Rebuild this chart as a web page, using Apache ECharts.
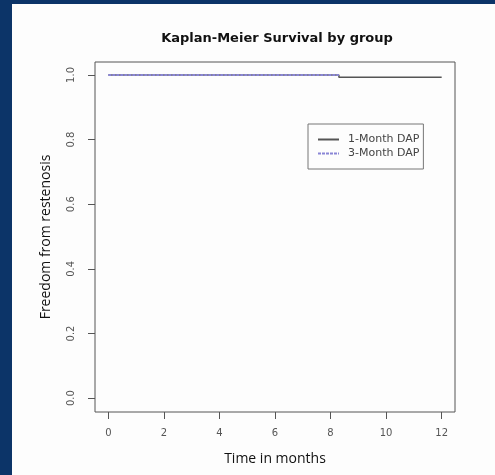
<!DOCTYPE html>
<html>
<head>
<meta charset="utf-8">
<script src="https://cdn.jsdelivr.net/npm/echarts@6/dist/echarts.min.js"></script>
<style>
html,body{margin:0;padding:0;background:#0c3468;}
#wrap{position:absolute;left:12px;top:4px;width:483px;height:471px;background:#fdfdfd;}
#chart{position:absolute;left:0;top:0;width:495px;height:475px;}
</style>
</head>
<body>
<div id="wrap"></div>
<div id="chart"></div>
<script>
const chartTitle = 'Kaplan-Meier Survival by group';
const xTitle = 'Time in months';
const yTitle = 'Freedom from restenosis';
const seriesNames = ['1-Month DAP', '3-Month DAP'];
const xTicks = [0, 2, 4, 6, 8, 10, 12];
const yTicks = [0, 0.2, 0.4, 0.6, 0.8, 1.0];
// Kaplan-Meier step curves (time, survival)
const month1Times = [0, 8.3, 12];
const month1Surv = [1.0, 0.993, 0.993];
const month3Times = [0, 8.3];
const month3Surv = [1.0, 1.0];

const toPairs = (t, s) => t.map((v, i) => [v, s[i]]);

const chart = echarts.init(document.getElementById('chart'), null, {renderer: 'canvas'});
chart.setOption({
  backgroundColor: 'transparent',
  animation: false,
  title: {
    text: chartTitle, left: 272, top: 27, textAlign: 'center',
    textStyle: {fontFamily: 'DejaVu Sans', fontWeight: 'bold', fontSize: 13, color: '#111'}
  },
  legend: {
    left: 308, top: 124, orient: 'vertical',
    data: seriesNames,
    itemWidth: 21, itemHeight: 4, itemGap: 3,
    padding: [10, 4, 10, 9],
    borderColor: '#777', borderWidth: 1,
    itemStyle: {opacity: 0, borderWidth: 0},
    textStyle: {fontFamily: 'DejaVu Sans', fontSize: 11, color: '#444', padding: [0, 0, 0, 4]}
  },
  grid: {left: 95, top: 62, width: 360, height: 350, show: true, borderColor: '#555', borderWidth: 1, backgroundColor: 'transparent'},
  xAxis: {
    type: 'value', min: -0.48, max: 12.48,
    name: xTitle, nameLocation: 'middle', nameGap: 40,
    nameTextStyle: {fontFamily: 'Open Sans', fontSize: 14, color: '#111'},
    axisLine: {show: false, onZero: false},
    splitLine: {show: false},
    axisTick: {show: true, customValues: xTicks, length: 7, lineStyle: {color: '#555'}},
    axisLabel: {customValues: xTicks, fontFamily: 'DejaVu Sans', fontSize: 10, color: '#555', margin: 16}
  },
  yAxis: {
    type: 'value', min: -0.043, max: 1.04,
    name: yTitle, nameLocation: 'middle', nameGap: 42,
    nameTextStyle: {fontFamily: 'Open Sans', fontSize: 14, color: '#111'},
    axisLine: {show: false, onZero: false},
    splitLine: {show: false},
    axisTick: {show: true, customValues: yTicks, length: 7, lineStyle: {color: '#555'}},
    axisLabel: {customValues: yTicks, rotate: 90, fontFamily: 'DejaVu Sans', fontSize: 10, color: '#555', margin: 19,
      formatter: v => v.toFixed(1)}
  },
  series: [
    {
      name: seriesNames[0], type: 'line', step: 'end', symbol: 'none',
      data: toPairs(month1Times, month1Surv),
      lineStyle: {color: '#555', width: 1.5}, itemStyle: {color: '#555'}
    },
    {
      name: seriesNames[1], type: 'line', step: 'end', symbol: 'none',
      data: toPairs(month3Times, month3Surv),
      lineStyle: {color: '#8a86d6', width: 2, type: [3, 1]}, itemStyle: {color: '#8a86d6'}
    }
  ]
});
</script>
</body>
</html>
